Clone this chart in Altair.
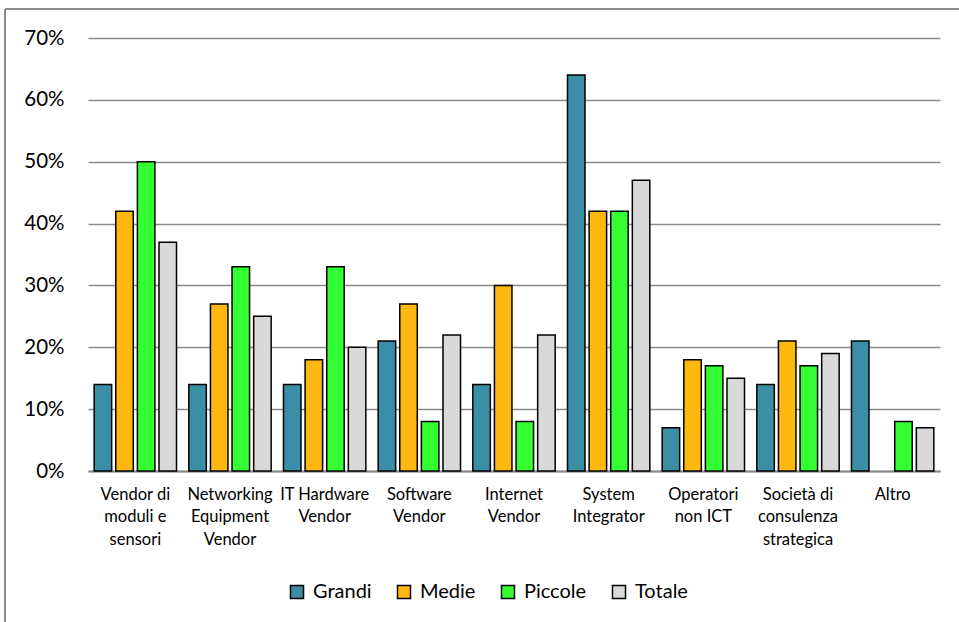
import json
import altair as alt
import pandas as pd

# Categories of partner and their wrapped axis labels
categories = [
    "Vendor di moduli e sensori",
    "Networking Equipment Vendor",
    "IT Hardware Vendor",
    "Software Vendor",
    "Internet Vendor",
    "System Integrator",
    "Operatori non ICT",
    "Società di consulenza strategica",
    "Altro",
]
label_lines = [
    ["Vendor di", "moduli e", "sensori"],
    ["Networking", "Equipment", "Vendor"],
    ["IT Hardware", "Vendor"],
    ["Software", "Vendor"],
    ["Internet", "Vendor"],
    ["System", "Integrator"],
    ["Operatori", "non ICT"],
    ["Società di", "consulenza", "strategica"],
    ["Altro"],
]

series = ["Grandi", "Medie", "Piccole", "Totale"]
colors = ["#3A8EA5", "#FFB810", "#33FF33", "#D9D9D9"]

# Percentages per company size (None = no bar)
grandi = [14, 14, 14, 21, 14, 64, 7, 14, 21]
medie = [42, 27, 18, 27, 30, 42, 18, 21, None]
piccole = [50, 33, 33, 8, 8, 42, 17, 17, 8]
totale = [37, 25, 20, 22, 22, 47, 15, 19, 7]

rows = []
for name, vals in zip(series, [grandi, medie, piccole, totale]):
    for cat, v in zip(categories, vals):
        if v is not None:
            rows.append({"categoria": cat, "serie": name, "valore": v})
df = pd.DataFrame(rows)

wrap_map = json.dumps(dict(zip(categories, label_lines)), ensure_ascii=False)

W, H = 852, 433
PAD = {"left": 88, "top": 38, "right": 19, "bottom": 151}

bars = alt.Chart(df).mark_bar(stroke="black", strokeWidth=1.5).encode(
    x=alt.X(
        "categoria:N",
        sort=categories,
        scale=alt.Scale(paddingInner=0.13, paddingOuter=0.065),
        axis=alt.Axis(
            title=None,
            labelAngle=0,
            labelExpr=f"{wrap_map}[datum.value]",
            labelOverlap=False,
            labelFontSize=16.5,
            labelLineHeight=22.5,
            labelPadding=15,
            labelBaseline="top",
            labelColor="#000000",
            ticks=False,
            domainColor="#8a8a8a",
            domainWidth=2,
        ),
    ),
    xOffset=alt.XOffset(
        "serie:N", sort=series, scale=alt.Scale(paddingInner=0.19, paddingOuter=0)
    ),
    y=alt.Y(
        "valore:Q",
        scale=alt.Scale(domain=[0, 70]),
        axis=alt.Axis(
            title=None,
            values=list(range(0, 71, 10)),
            labelExpr="datum.value + '%'",
            labelFontSize=20.5,
            labelPadding=24,
            labelColor="#000000",
            domain=False,
            ticks=False,
            gridColor="#8a8a8a",
            gridWidth=1.6,
        ),
    ),
    color=alt.Color(
        "serie:N",
        sort=series,
        scale=alt.Scale(domain=series, range=colors),
        legend=alt.Legend(
            title=None,
            orient="none",
            direction="horizontal",
            legendX=199,
            legendY=544,
            symbolType="square",
            symbolSize=169,
            symbolStrokeColor="black",
            symbolStrokeWidth=1.5,
            symbolOpacity=1,
            labelFontSize=20,
            labelColor="#000000",
            labelOffset=6,
            columnPadding=22,
            padding=0,
        ),
    ),
)

# Outer frame lines of the chart area (top and left edges)
edge = pd.DataFrame({"f": [0]})
frame_top = alt.Chart(edge).mark_rule(stroke="#8c8c8c", strokeWidth=2).encode(
    x=alt.value(-83), x2=alt.value(W + 19), y=alt.value(-29)
)
frame_left = alt.Chart(edge).mark_rule(stroke="#8c8c8c", strokeWidth=2).encode(
    x=alt.value(-83), y=alt.value(-29), y2=alt.value(H + 151)
)

chart = (
    alt.layer(frame_top, frame_left, bars)
    .properties(width=W, height=H, padding=PAD, autosize=alt.AutoSizeParams(type="none"))
    .configure(font="Lato")
    .configure_view(stroke=None)
)

chart.save("out.html", embed_options={"renderer": "svg", "actions": False})
